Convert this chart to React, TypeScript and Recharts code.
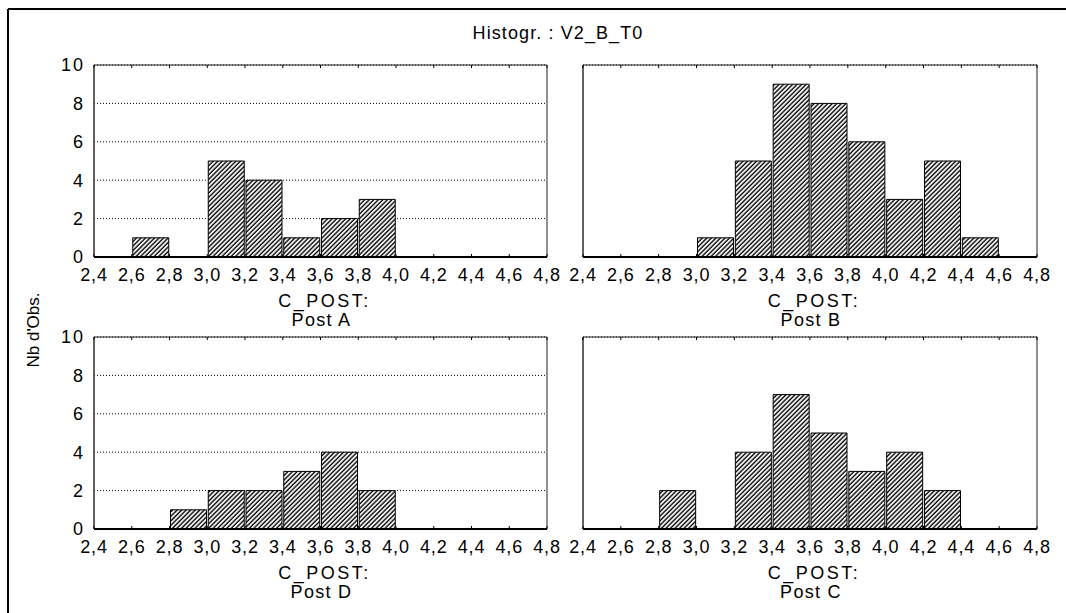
import React from "react";
import { BarChart, Bar, XAxis, YAxis, CartesianGrid, ReferenceArea } from "recharts";

const binMids = [2.5, 2.7, 2.9, 3.1, 3.3, 3.5, 3.7, 3.9, 4.1, 4.3, 4.5, 4.7];
const xTicks = [2.4, 2.6, 2.8, 3.0, 3.2, 3.4, 3.6, 3.8, 4.0, 4.2, 4.4, 4.6, 4.8];
const yTicks = [0, 2, 4, 6, 8, 10];

const postA = [0, 1, 0, 5, 4, 1, 2, 3, 0, 0, 0, 0];
const postB = [0, 0, 0, 1, 5, 9, 8, 6, 3, 5, 1, 0];
const postD = [0, 0, 1, 2, 2, 3, 4, 2, 0, 0, 0, 0];
const postC = [0, 0, 2, 0, 4, 7, 5, 3, 4, 2, 0, 0];

const FONT = "'Liberation Sans', Arial, sans-serif";
const CHART_H = 290;
const MARGIN = { top: 14, right: 19, bottom: 54, left: 8 };
const PLOT_TOP = MARGIN.top;
const PLOT_BOTTOM = CHART_H - 84;

const fmt = (v: number) => v.toFixed(1).replace(".", ",");

function XTick(props: any) {
  const { x, payload } = props;
  return (
    <g>
      <line x1={x} x2={x} y1={PLOT_BOTTOM} y2={PLOT_BOTTOM - 3} stroke="#000" />
      <line x1={x} x2={x} y1={PLOT_TOP} y2={PLOT_TOP + 3} stroke="#000" />
      <text
        x={x}
        y={PLOT_BOTTOM + 18}
        textAnchor="middle"
        dominantBaseline="central"
        fontSize={18}
        letterSpacing={0.8}
        fontFamily={FONT}
        fill="#000"
      >
        {fmt(payload.value)}
      </text>
    </g>
  );
}

function Panel({
  counts,
  name,
  id,
  left,
  top,
  width,
  showY,
}: {
  counts: number[];
  name: string;
  id: string;
  left: number;
  top: number;
  width: number;
  showY: boolean;
}) {
  const data = binMids.map((mid, i) => ({ mid, count: counts[i] }));
  return (
    <div style={{ position: "absolute", left, top }}>
      <BarChart width={width} height={CHART_H} data={data} margin={MARGIN} barCategoryGap={1}>
        <defs>
          <pattern
            id={id}
            patternUnits="userSpaceOnUse"
            width={3.2}
            height={3.2}
            patternTransform="rotate(45)"
          >
            <rect width={3.2} height={3.2} fill="#fff" />
            <line x1={1} y1={0} x2={1} y2={3.2} stroke="#000" strokeWidth={1.4} />
          </pattern>
        </defs>
        <CartesianGrid vertical={false} stroke="#000" strokeDasharray="1 2" />
        <XAxis
          dataKey="mid"
          type="number"
          domain={[2.4, 4.8]}
          allowDataOverflow
          ticks={xTicks}
          interval={0}
          tickSize={0}
          tickLine={false}
          tick={<XTick />}
          axisLine={{ stroke: "#000", strokeWidth: 2 }}
          height={30}
          label={{
            content: (p: any) => {
              const vb = p.viewBox || {};
              const cx = vb.x + vb.width / 2;
              return (
                <g fontFamily={FONT} fontSize={18} fill="#000">
                  <text x={cx + 4} y={PLOT_BOTTOM + 44} textAnchor="middle" dominantBaseline="central" letterSpacing={2.5}>
                    C_POST:
                  </text>
                  <text x={cx + 1} y={PLOT_BOTTOM + 63} textAnchor="middle" dominantBaseline="central" letterSpacing={1.3}>
                    {name}
                  </text>
                </g>
              );
            },
          }}
        />
        <YAxis
          type="number"
          domain={[0, 10]}
          ticks={yTicks}
          interval={0}
          width={40}
          tickSize={0}
          tickMargin={9}
          tickLine={false}
          tick={showY ? { fill: "#000", fontSize: 18, fontFamily: FONT, letterSpacing: 2 } : false}
          axisLine={{ stroke: "#333" }}
        />
        <ReferenceArea x1={2.4} x2={4.8} y1={0} y2={10} fill="none" stroke="#222" strokeWidth={1} ifOverflow="visible" />
        <Bar
          dataKey="count"
          fill={`url(#${id})`}
          stroke="#000"
          strokeWidth={1}
          isAnimationActive={false}
        />
      </BarChart>
    </div>
  );
}

export default function App() {
  return (
    <div style={{ position: "absolute", left: 0, top: 0, width: 1066, height: 613, background: "#fff", overflow: "hidden" }}>
      <svg width={1066} height={613} style={{ position: "absolute", left: 0, top: 0 }}>
        <line x1={8} y1={9} x2={1066} y2={9} stroke="#000" strokeWidth={2} />
        <line x1={8} y1={9} x2={8} y2={613} stroke="#000" strokeWidth={2} />
        <text x={558} y={33} textAnchor="middle" dominantBaseline="central" fontSize={18} fontFamily={FONT} letterSpacing={1.1}>
          Histogr. : V2_B_T0
        </text>
        <text
          x={33}
          y={330}
          transform="rotate(-90 33 330)"
          textAnchor="middle"
          dominantBaseline="central"
          fontSize={17}
          fontFamily={FONT}
        >
          Nb d'Obs.
        </text>
      </svg>
      <Panel counts={postA} name="Post A" id="hatchA" left={46} top={51} width={520} showY />
      <Panel counts={postB} name="Post B" id="hatchB" left={535} top={51} width={521} showY={false} />
      <Panel counts={postD} name="Post D" id="hatchD" left={46} top={323} width={520} showY />
      <Panel counts={postC} name="Post C" id="hatchC" left={535} top={323} width={521} showY={false} />
    </div>
  );
}
